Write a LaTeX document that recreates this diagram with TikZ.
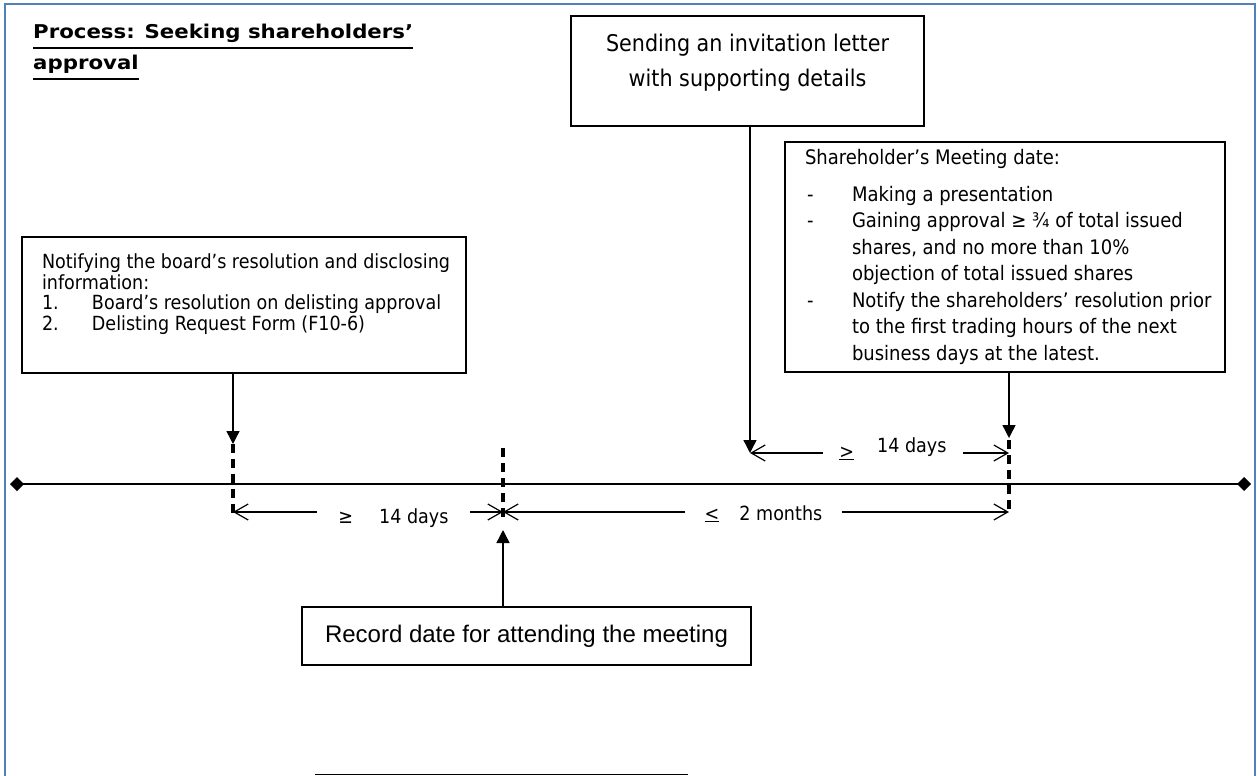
\documentclass[tikz,border=0pt]{standalone}
\usepackage{fontspec}
\setmainfont{DejaVu Sans}[FakeStretch=0.9]
\newfontfamily\titlefont{DejaVu Sans}[FakeStretch=1.12]
\newfontfamily\arialfont{Liberation Sans}
\usetikzlibrary{arrows.meta,calc}

\definecolor{frameblue}{HTML}{4F81BD}

\newsavebox{\ulbox}
\newcommand{\titleul}[1]{\sbox{\ulbox}{#1}\rlap{\rule[-10pt]{\wd\ulbox}{2pt}}\usebox{\ulbox}}
\newcommand{\smdash}{\par\noindent\hangindent=47pt\hangafter=1\makebox[47pt][l]{\hspace{2pt}-}}
\newcommand{\numitem}[1]{\par\noindent\hangindent=50pt\hangafter=1\makebox[50pt][l]{#1}}

\tikzset{
  evbox/.style={draw, line width=1.3pt, inner xsep=20pt, inner ysep=0pt},
  datetick/.style={line width=3.2pt, dash pattern=on 9pt off 6pt},
  callout/.style={line width=1.4pt, -{Triangle[length=13pt,width=13pt]}},
  interval/.style={line width=1.2pt, -{Straight Barb[length=14pt,width=16pt]}},
  intlabel/.style={inner ysep=0pt, font=\fontsize{19.5}{23}\selectfont}
}

\begin{document}
\begin{tikzpicture}[x=1pt, y=-1pt]
\useasboundingbox (0,0) rectangle (1258,776);

\draw[frameblue, line width=2pt] (5,776) -- (5,4) -- (1255,4) -- (1255,776);

\node[anchor=north west, inner sep=0pt, align=left,
      font=\titlefont\bfseries\fontsize{19}{31}\selectfont] (title) at (33,24)
  {\titleul{Process: Seeking shareholders’}\\ \titleul{approval}};

\node[evbox, inner xsep=8pt] (invite) at (747.5,71)
  {\parbox[c][110pt][t]{337pt}{\centering\fontsize{23}{35}\selectfont\vspace*{17.8pt}%
   Sending an invitation letter\\with supporting details}};

\node[evbox, inner xsep=5pt] (meeting) at (1005,257)
  {\parbox[c][230pt][t]{430pt}{\raggedright\leftskip=15pt\fontsize{20}{26.5}\selectfont\vspace*{7pt}%
   Shareholder’s Meeting date:\par\vspace{10.5pt}
   \smdash Making a presentation
   \smdash Gaining approval ≥ ¾ of total issued\newline shares, and no more than 10\%\newline objection of total issued shares
   \smdash Notify the shareholders’ resolution prior\newline to the first trading hours of the next\newline business days at the latest.\par}};

\node[evbox, inner xsep=10pt] (notify) at (244,305)
  {\parbox[c][136pt][t]{424pt}{\raggedright\leftskip=10pt\fontsize{19.5}{20.5}\selectfont\vspace*{17pt}%
   Notifying the board’s resolution and disclosing\newline information:
   \numitem{1.}Board’s resolution on delisting approval
   \numitem{2.}Delisting Request Form (F10-6)\par}};

\node[evbox, minimum width=449pt, minimum height=58pt,
      font=\arialfont\fontsize{24}{28}\selectfont] (record) at (526.5,636)
  {Record date for attending the meeting};

\coordinate (tlstart) at (10,484);
\coordinate (tlend) at (1251,484);
\coordinate (bd) at (233,484);
\coordinate (rd) at (503,484);
\coordinate (md) at (1009,484);
\coordinate (sd) at (750,453);
\coordinate (bdlow) at ($(bd)+(0,28)$);
\coordinate (rdlow) at ($(rd)+(0,28)$);
\coordinate (mdlow) at ($(md)+(0,28)$);
\coordinate (mdhigh) at (sd -| md);

\draw[line width=1.6pt, {Turned Square[length=14pt,width=14pt]}-{Turned Square[length=14pt,width=14pt]}] (tlstart) -- (tlend);

\draw[datetick] ($(bd)+(0,-40)$) -- ($(bd)+(0,33)$);
\draw[datetick] ($(rd)+(0,-36)$) -- ($(rd)+(0,35)$);
\draw[datetick] ($(md)+(0,-44)$) -- ($(md)+(0,30)$);

\draw[callout] (notify.south -| bd) -- ($(bd)+(0,-40)$);
\draw[callout] (invite.south -| sd) -- (sd);
\draw[callout] (meeting.south -| md) -- ($(md)+(0,-46)$);
\draw[callout] (record.north -| rd) -- ($(rd)+(0,46)$);

\node[intlabel, inner xsep=21.5pt, anchor=base] (gapA) at (393.5,523) {≥\hspace{26pt}14 days};
\draw[interval] (gapA.west |- bdlow) -- (bdlow);
\draw[interval] (gapA.east |- rdlow) -- (rdlow);

\node[intlabel, inner xsep=19.5pt, anchor=base] (gapB) at (763.5,520) {\underline{<}\hspace{20pt}2 months};
\draw[interval] (gapB.west |- rdlow) -- (rdlow);
\draw[interval] (gapB.east |- mdlow) -- (mdlow);

\node[intlabel, inner xsep=16.5pt, anchor=base] (gapC) at (893,458) {\underline{>}\hspace{23pt}\raisebox{6pt}{14 days}};
\draw[interval] (gapC.west |- sd) -- (sd);
\draw[interval] (gapC.east |- mdhigh) -- (mdhigh);

\coordinate (fnA) at (315,774);
\coordinate (fnB) at (688,774);
\draw[line width=1pt] (fnA) -- (fnB);

\end{tikzpicture}
\end{document}
